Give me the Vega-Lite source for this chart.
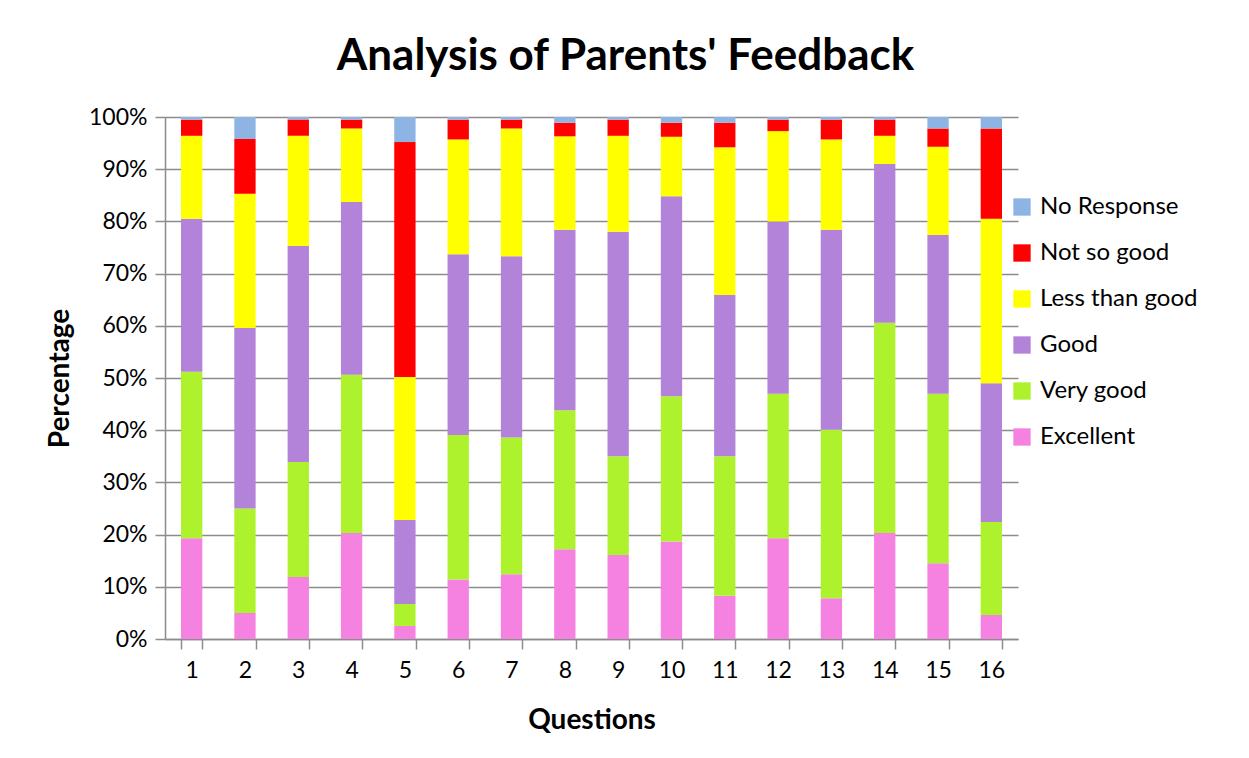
{
  "$schema": "https://vega.github.io/schema/vega-lite/v6.json",
  "autosize": "none",
  "width": 853,
  "height": 522,
  "padding": {"left": 165, "top": 117, "right": 231, "bottom": 119},
  "background": "white",
  "config": {
    "font": "Lato",
    "view": {"stroke": null}
  },
  "title": {
    "text": "Analysis of Parents' Feedback",
    "fontSize": 44,
    "fontWeight": "bold",
    "color": "black",
    "anchor": "middle",
    "offset": 27,
    "dx": 34
  },
  "data": {
    "values": [
      {"q": 1, "rating": "Excellent", "pct": 19.3}, {"q": 1, "rating": "Very good", "pct": 31.9}, {"q": 1, "rating": "Good", "pct": 29.3}, {"q": 1, "rating": "Less than good", "pct": 15.9}, {"q": 1, "rating": "Not so good", "pct": 3.1}, {"q": 1, "rating": "No Response", "pct": 0.5},
      {"q": 2, "rating": "Excellent", "pct": 5.0}, {"q": 2, "rating": "Very good", "pct": 20.0}, {"q": 2, "rating": "Good", "pct": 34.6}, {"q": 2, "rating": "Less than good", "pct": 25.7}, {"q": 2, "rating": "Not so good", "pct": 10.5}, {"q": 2, "rating": "No Response", "pct": 4.2},
      {"q": 3, "rating": "Excellent", "pct": 11.9}, {"q": 3, "rating": "Very good", "pct": 22.0}, {"q": 3, "rating": "Good", "pct": 41.4}, {"q": 3, "rating": "Less than good", "pct": 21.1}, {"q": 3, "rating": "Not so good", "pct": 3.1}, {"q": 3, "rating": "No Response", "pct": 0.5},
      {"q": 4, "rating": "Excellent", "pct": 20.3}, {"q": 4, "rating": "Very good", "pct": 30.3}, {"q": 4, "rating": "Good", "pct": 33.1}, {"q": 4, "rating": "Less than good", "pct": 14.1}, {"q": 4, "rating": "Not so good", "pct": 1.7}, {"q": 4, "rating": "No Response", "pct": 0.5},
      {"q": 5, "rating": "Excellent", "pct": 2.5}, {"q": 5, "rating": "Very good", "pct": 4.2}, {"q": 5, "rating": "Good", "pct": 16.1}, {"q": 5, "rating": "Less than good", "pct": 27.4}, {"q": 5, "rating": "Not so good", "pct": 45.0}, {"q": 5, "rating": "No Response", "pct": 4.8},
      {"q": 6, "rating": "Excellent", "pct": 11.4}, {"q": 6, "rating": "Very good", "pct": 27.7}, {"q": 6, "rating": "Good", "pct": 34.6}, {"q": 6, "rating": "Less than good", "pct": 22.0}, {"q": 6, "rating": "Not so good", "pct": 3.8}, {"q": 6, "rating": "No Response", "pct": 0.5},
      {"q": 7, "rating": "Excellent", "pct": 12.4}, {"q": 7, "rating": "Very good", "pct": 26.2}, {"q": 7, "rating": "Good", "pct": 34.7}, {"q": 7, "rating": "Less than good", "pct": 24.5}, {"q": 7, "rating": "Not so good", "pct": 1.7}, {"q": 7, "rating": "No Response", "pct": 0.5},
      {"q": 8, "rating": "Excellent", "pct": 17.2}, {"q": 8, "rating": "Very good", "pct": 26.6}, {"q": 8, "rating": "Good", "pct": 34.6}, {"q": 8, "rating": "Less than good", "pct": 17.9}, {"q": 8, "rating": "Not so good", "pct": 2.6}, {"q": 8, "rating": "No Response", "pct": 1.1},
      {"q": 9, "rating": "Excellent", "pct": 16.1}, {"q": 9, "rating": "Very good", "pct": 18.9}, {"q": 9, "rating": "Good", "pct": 43.0}, {"q": 9, "rating": "Less than good", "pct": 18.4}, {"q": 9, "rating": "Not so good", "pct": 3.1}, {"q": 9, "rating": "No Response", "pct": 0.5},
      {"q": 10, "rating": "Excellent", "pct": 18.7}, {"q": 10, "rating": "Very good", "pct": 27.8}, {"q": 10, "rating": "Good", "pct": 38.3}, {"q": 10, "rating": "Less than good", "pct": 11.4}, {"q": 10, "rating": "Not so good", "pct": 2.7}, {"q": 10, "rating": "No Response", "pct": 1.1},
      {"q": 11, "rating": "Excellent", "pct": 8.3}, {"q": 11, "rating": "Very good", "pct": 26.7}, {"q": 11, "rating": "Good", "pct": 30.9}, {"q": 11, "rating": "Less than good", "pct": 28.3}, {"q": 11, "rating": "Not so good", "pct": 4.7}, {"q": 11, "rating": "No Response", "pct": 1.1},
      {"q": 12, "rating": "Excellent", "pct": 19.3}, {"q": 12, "rating": "Very good", "pct": 27.7}, {"q": 12, "rating": "Good", "pct": 33.0}, {"q": 12, "rating": "Less than good", "pct": 17.3}, {"q": 12, "rating": "Not so good", "pct": 2.2}, {"q": 12, "rating": "No Response", "pct": 0.5},
      {"q": 13, "rating": "Excellent", "pct": 7.8}, {"q": 13, "rating": "Very good", "pct": 32.3}, {"q": 13, "rating": "Good", "pct": 38.3}, {"q": 13, "rating": "Less than good", "pct": 17.3}, {"q": 13, "rating": "Not so good", "pct": 3.8}, {"q": 13, "rating": "No Response", "pct": 0.5},
      {"q": 14, "rating": "Excellent", "pct": 20.3}, {"q": 14, "rating": "Very good", "pct": 40.3}, {"q": 14, "rating": "Good", "pct": 30.4}, {"q": 14, "rating": "Less than good", "pct": 5.4}, {"q": 14, "rating": "Not so good", "pct": 3.1}, {"q": 14, "rating": "No Response", "pct": 0.5},
      {"q": 15, "rating": "Excellent", "pct": 14.5}, {"q": 15, "rating": "Very good", "pct": 32.5}, {"q": 15, "rating": "Good", "pct": 30.4}, {"q": 15, "rating": "Less than good", "pct": 16.9}, {"q": 15, "rating": "Not so good", "pct": 3.5}, {"q": 15, "rating": "No Response", "pct": 2.2},
      {"q": 16, "rating": "Excellent", "pct": 4.6}, {"q": 16, "rating": "Very good", "pct": 17.8}, {"q": 16, "rating": "Good", "pct": 26.6}, {"q": 16, "rating": "Less than good", "pct": 31.5}, {"q": 16, "rating": "Not so good", "pct": 17.3}, {"q": 16, "rating": "No Response", "pct": 2.2}
    ]
  },
  "transform": [
    {"calculate": "indexof(['Excellent','Very good','Good','Less than good','Not so good','No Response'], datum.rating)", "as": "order"}
  ],
  "mark": {"type": "bar"},
  "encoding": {
    "x": {
      "field": "q",
      "type": "ordinal",
      "scale": {"paddingInner": 0.6, "paddingOuter": 0.3},
      "axis": {
        "title": "Questions",
        "titleFontSize": 28,
        "titleFontWeight": "bold",
        "titleColor": "black",
        "titlePadding": 24,
        "labelAngle": 0,
        "labelFontSize": 23,
        "labelColor": "black",
        "labelPadding": 10,
        "tickBand": "extent",
        "tickSize": 10,
        "tickColor": "#8c8c8c",
        "tickWidth": 1.5,
        "domainColor": "#8c8c8c",
        "domainWidth": 1.5,
        "grid": false
      }
    },
    "y": {
      "field": "pct",
      "type": "quantitative",
      "stack": "normalize",
      "scale": {"domain": [0, 1], "nice": false},
      "axis": {
        "title": "Percentage",
        "titleFontSize": 28,
        "titleFontWeight": "bold",
        "titleColor": "black",
        "titlePadding": 14,
        "format": ".0%",
        "values": [0, 0.1, 0.2, 0.3, 0.4, 0.5, 0.6, 0.7, 0.8, 0.9, 1],
        "labelFontSize": 23,
        "labelColor": "black",
        "labelPadding": 8,
        "tickSize": 10,
        "tickColor": "#8c8c8c",
        "tickWidth": 1.5,
        "domainColor": "#8c8c8c",
        "domainWidth": 1.5,
        "grid": true,
        "gridColor": "#8c8c8c",
        "gridWidth": 1.5
      }
    },
    "color": {
      "field": "rating",
      "type": "nominal",
      "scale": {
        "domain": ["No Response", "Not so good", "Less than good", "Good", "Very good", "Excellent"],
        "range": ["#8DB4E2", "#FF0000", "#FFFF00", "#B383D9", "#AEF22E", "#F582E0"]
      },
      "legend": {
        "title": null,
        "orient": "none",
        "legendX": 845,
        "legendY": 78,
        "symbolType": "square",
        "symbolSize": 300,
        "symbolStrokeWidth": 0,
        "labelFontSize": 24,
        "labelColor": "black",
        "labelOffset": 6,
        "rowPadding": 22
      }
    },
    "order": {"field": "order", "type": "quantitative"}
  }
}
